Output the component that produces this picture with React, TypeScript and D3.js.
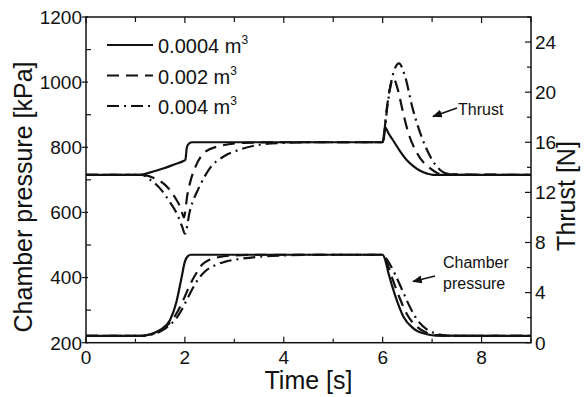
import React from "react";
import * as d3 from "d3";

// legend labels (volume)
const volumes = ["0.0004", "0.002", "0.004"];

// thrust [N] vs time [s]
const thrustSmall = [
  [0, 13.4], [1.1, 13.4], [1.3, 13.6], [1.56, 13.9], [1.8, 14.25], [1.97, 14.5], [2.01, 14.6],
  [2.04, 15.6], [2.08, 15.9], [2.15, 16.0], [6.0, 16.0], [6.05, 17.2], [6.12, 16.7],
  [6.21, 16.16], [6.35, 15.3], [6.49, 14.57], [6.62, 14.1], [6.76, 13.72], [6.9, 13.5],
  [7.02, 13.4], [9, 13.4],
];
const thrustMid = [
  [0, 13.4], [1.13, 13.4], [1.4, 13.1], [1.6, 12.6], [1.8, 11.6], [1.92, 10.7], [1.98, 10.0],
  [2.05, 11.8], [2.12, 13.0], [2.22, 14.1], [2.4, 15.2], [2.7, 15.7], [3.2, 15.95], [3.8, 16.0],
  [6.0, 16.0], [6.08, 18.6], [6.15, 20.4], [6.22, 21.1], [6.3, 20.3], [6.4, 18.6], [6.5, 17.0],
  [6.7, 15.1], [6.97, 13.9], [7.2, 13.45], [9, 13.4],
];
const thrustLarge = [
  [0, 13.4], [1.13, 13.4], [1.3, 13.0], [1.5, 12.3], [1.7, 11.2], [1.85, 10.2], [1.95, 9.2],
  [2.0, 8.7], [2.1, 10.5], [2.3, 12.5], [2.5, 13.9], [2.8, 14.9], [3.1, 15.4], [3.5, 15.8],
  [4.0, 15.95], [4.5, 16.0], [6.0, 16.0], [6.1, 19.0], [6.2, 21.3], [6.33, 22.3], [6.45, 21.3],
  [6.6, 18.8], [6.8, 16.3], [7.05, 14.3], [7.3, 13.5], [7.6, 13.4], [9, 13.4],
];

// chamber pressure [kPa] vs time [s]
const pressSmall = [
  [0, 221], [1.09, 221], [1.3, 226], [1.5, 239], [1.7, 270], [1.83, 326], [1.93, 398],
  [2.0, 449], [2.06, 466], [2.12, 470], [6.0, 470], [6.05, 455], [6.11, 418], [6.25, 346],
  [6.42, 280], [6.62, 244], [6.89, 226], [7.09, 221.5], [9, 221],
];
const pressMid = [
  [0, 221], [1.1, 221], [1.3, 225], [1.5, 237], [1.7, 262], [1.85, 295], [1.95, 325],
  [2.05, 360], [2.15, 392], [2.25, 418], [2.35, 440], [2.5, 455], [2.7, 463], [3.0, 468],
  [3.5, 470], [6.0, 470], [6.1, 440], [6.2, 395], [6.35, 335], [6.5, 285], [6.7, 248],
  [6.9, 230], [7.1, 223], [7.3, 221], [9, 221],
];
const pressLarge = [
  [0, 221], [1.1, 221], [1.3, 224], [1.5, 234], [1.7, 255], [1.85, 280], [1.95, 305],
  [2.05, 335], [2.15, 365], [2.27, 395], [2.4, 418], [2.6, 437], [2.8, 448], [3.1, 457],
  [3.5, 464], [4.0, 468], [4.5, 470], [6.0, 470], [6.1, 452], [6.25, 410], [6.4, 360],
  [6.55, 310], [6.7, 270], [6.9, 240], [7.1, 227], [7.3, 222], [7.5, 221], [9, 221],
];

const xTicks = [0, 2, 4, 6, 8];
const xMinor = [1, 3, 5, 7, 9];
const leftTicks = [200, 400, 600, 800, 1000, 1200];
const leftMinor = [300, 500, 700, 900, 1100];
const rightTicks = [0, 4, 8, 12, 16, 20, 24];
const rightMinor = [2, 6, 10, 14, 18, 22, 26];

const W = 588;
const H = 397;
const L = 86, R = 531, T = 17, B = 342.7;
const font = "'Liberation Sans', Arial, sans-serif";
const dashes = [null, "12,7", "12,5,2,5"];

export default function App() {
  const x = d3.scaleLinear().domain([0, 9]).range([L, R]);
  const yL = d3.scaleLinear().domain([200, 1200]).range([B, T]);
  const yR = d3.scaleLinear().domain([0, 26]).range([B, T]);

  const lineT = d3.line<number[]>().x((d) => x(d[0])).y((d) => yR(d[1])).curve(d3.curveMonotoneX);
  const lineP = d3.line<number[]>().x((d) => x(d[0])).y((d) => yL(d[1])).curve(d3.curveMonotoneX);

  const thrust = [thrustSmall, thrustMid, thrustLarge];
  const press = [pressSmall, pressMid, pressLarge];

  return (
    <svg width={W} height={H} style={{ position: "absolute", left: 0, top: 0, background: "#fff" }} fontFamily={font}>
      <defs>
        <marker id="arr" viewBox="0 0 10 10" refX="9" refY="5" markerWidth="7" markerHeight="7" orient="auto">
          <path d="M0,1 L10,5 L0,9 z" fill="#111" />
        </marker>
      </defs>
      <g fill="none" stroke="#111" strokeWidth={2.2}>
        {thrust.map((d, i) => (
          <path key={"t" + i} d={lineT(d) || ""} strokeDasharray={dashes[i] || undefined} />
        ))}
        {press.map((d, i) => (
          <path key={"p" + i} d={lineP(d) || ""} strokeDasharray={dashes[i] || undefined} />
        ))}
      </g>

      {/* frame */}
      <rect x={L} y={T} width={R - L} height={B - T} fill="none" stroke="#111" strokeWidth={1.5} />

      {/* ticks */}
      <g stroke="#111" strokeWidth={1.2}>
        {xTicks.map((t) => (
          <g key={"xt" + t}>
            <line x1={x(t)} x2={x(t)} y1={B} y2={B - 6} />
            <line x1={x(t)} x2={x(t)} y1={T} y2={T + 6} />
          </g>
        ))}
        {xMinor.map((t) => (
          <g key={"xm" + t}>
            <line x1={x(t)} x2={x(t)} y1={B} y2={B - 4} />
            <line x1={x(t)} x2={x(t)} y1={T} y2={T + 5} />
          </g>
        ))}
        {leftTicks.map((v) => (
          <line key={"lt" + v} x1={L - 4} x2={L + 2} y1={yL(v)} y2={yL(v)} />
        ))}
        {leftMinor.map((v) => (
          <line key={"lm" + v} x1={L} x2={L + 5} y1={yL(v)} y2={yL(v)} />
        ))}
        {rightTicks.map((v) => (
          <line key={"rt" + v} x1={R - 6} x2={R} y1={yR(v)} y2={yR(v)} />
        ))}
        {rightMinor.map((v) => (
          <line key={"rm" + v} x1={R - 4} x2={R} y1={yR(v)} y2={yR(v)} />
        ))}
      </g>

      {/* tick labels */}
      <g fontSize={19} fill="#111">
        {xTicks.map((t) => (
          <text key={"xl" + t} x={x(t)} y={B + 21} textAnchor="middle">{t}</text>
        ))}
        {leftTicks.map((v) => (
          <text key={"ll" + v} x={L - 4} y={yL(v)} dy="0.36em" textAnchor="end">{v}</text>
        ))}
        {rightTicks.map((v) => (
          <text key={"rl" + v} x={R + 4} y={yR(v)} dy="0.36em">{v}</text>
        ))}
      </g>

      {/* axis titles */}
      <text x={(L + R) / 2} y={389} fontSize={25} textAnchor="middle" fill="#111">Time [s]</text>
      <text transform={`translate(32,197) rotate(-90)`} fontSize={25} textAnchor="middle" fill="#111">
        Chamber pressure [kPa]
      </text>
      <text transform={`translate(575,196) rotate(-90)`} fontSize={25} textAnchor="middle" fill="#111">
        Thrust [N]
      </text>

      {/* legend */}
      {volumes.map((v, i) => {
        const ly = 45 + i * 30.5;
        return (
          <g key={"lg" + v}>
            <line x1={107} x2={153} y1={ly} y2={ly} stroke="#111" strokeWidth={2.2}
              strokeDasharray={dashes[i] || undefined} />
            <text x={158} y={ly + 8} fontSize={20} fill="#111">
              {v} m<tspan fontSize={12} dy={-9}>3</tspan>
            </text>
          </g>
        );
      })}

      {/* annotations */}
      <line x1={457} y1={108} x2={433} y2={116.5} stroke="#111" strokeWidth={1.4} markerEnd="url(#arr)" />
      <text x={458} y={115} fontSize={16} fill="#111">Thrust</text>
      <line x1={435} y1={276} x2={413} y2={281.5} stroke="#111" strokeWidth={1.4} markerEnd="url(#arr)" />
      <text x={443} y={268} fontSize={16} fill="#111">Chamber</text>
      <text x={443} y={289} fontSize={16} fill="#111">pressure</text>
    </svg>
  );
}
